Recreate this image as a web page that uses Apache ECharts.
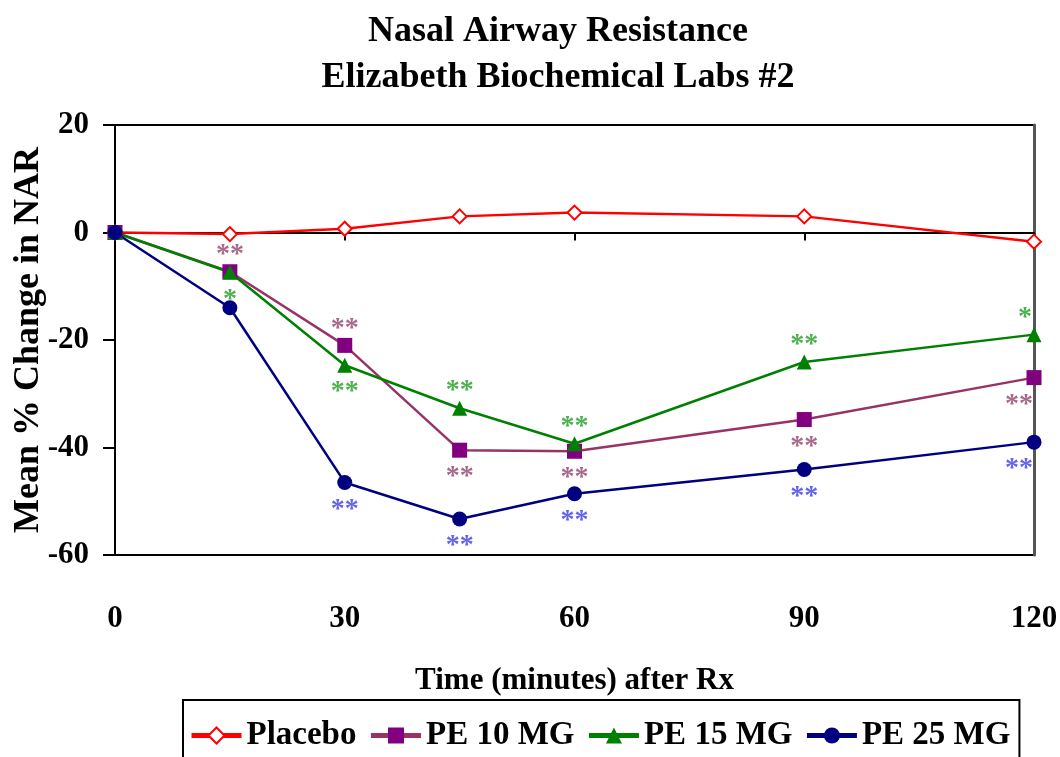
<!DOCTYPE html>
<html>
<head>
<meta charset="utf-8">
<script src="https://cdn.jsdelivr.net/npm/echarts@6/dist/echarts.min.js"></script>
<style>
  * { margin: 0; padding: 0; }
  body { background: #fff; }
  #chart { width: 1060px; height: 757px; }
</style>
</head>
<body>
<div id="chart"></div>
<script>
// time points (minutes after Rx)
const minutes = [0, 15, 30, 45, 60, 90, 120]

// mean % change in NAR per treatment
const placebo = [0, -0.3, 0.7, 3, 3.7, 3, -1.7]
const pe10 = [0, -7.3, -21, -40.5, -40.7, -34.8, -27]
const pe15 = [0, -7.4, -24.7, -32.7, -39.3, -24.1, -19]
const pe25 = [0, -14, -46.5, -53.3, -48.6, -44.1, -39]

// significance marks next to each point
const pe10Marks = ['', '**', '**', '**', '**', '**', '**']
const pe15Marks = ['', '*', '**', '**', '**', '**', '*']
const pe25Marks = ['', '', '**', '**', '**', '**', '**']

// which side of the point the mark sits on (-1 above, 1 below)
const pe10Side = [0, -1, -1, 1, 1, 1, 1]
const pe15Side = [0, 1, 1, -1, -1, -1, -1]
const pe25Side = [0, 1, 1, 1, 1, 1, 1]

const yTicks = [-60, -40, -20, 0, 20]
const xTicks = [0, 30, 60, 90, 120]

const serif = "'Liberation Serif', 'Times New Roman', serif"

function pointsWithMarks(values, marks, side, color) {
  return values.map((v, i) => {
    const item = { value: [minutes[i], v] }
    if (marks[i]) {
      const last = i === values.length - 1
      item.label = {
        show: true,
        position: 'inside',
        formatter: marks[i],
        color: color,
        fontFamily: serif,
        fontWeight: 'bold',
        fontSize: 28,
        offset: [last ? (marks[i].length > 1 ? -15 : -9) : 0, side[i] * 22 + 5]
      }
    }
    return item
  })
}

const chart = echarts.init(document.getElementById('chart'))
chart.setOption({
  backgroundColor: '#fff',
  animation: false,
  title: {
    text: 'Nasal Airway Resistance\nElizabeth Biochemical Labs #2',
    left: 553,
    top: 4,
    textAlign: 'center',
    textStyle: { fontFamily: serif, fontWeight: 'bold', fontSize: 36, lineHeight: 46, color: '#000' }
  },
  grid: {
    left: 115, right: 26, top: 125, bottom: 202,
    outerBoundsMode: 'none',
    containLabel: false,
    show: true, borderColor: '#000', borderWidth: 2
  },
  legend: {
    left: 183,
    top: 700,
    orient: 'horizontal',
    borderColor: '#000',
    borderWidth: 2,
    padding: [19, 9, 24, 6],
    itemGap: 12,
    itemWidth: 50,
    itemHeight: 20,
    lineStyle: { width: 5 },
    textStyle: { fontFamily: serif, fontWeight: 'bold', fontSize: 33, color: '#000' },
    data: ['Placebo', 'PE 10 MG', 'PE 15 MG', 'PE 25 MG']
  },
  xAxis: [
    {
      type: 'value',
      min: 0, max: 120, interval: 30,
      position: 'bottom',
      axisLine: { show: false, onZero: false },
      axisTick: { show: false },
      splitLine: { show: false },
      axisLabel: {
        margin: 48,
        fontFamily: serif, fontWeight: 'bold', fontSize: 31, color: '#000',
        formatter: v => xTicks.includes(v) ? String(v) : ''
      },
      name: 'Time (minutes) after Rx',
      nameLocation: 'middle',
      nameGap: 110,
      nameMoveOverlap: false,
      nameTextStyle: { fontFamily: serif, fontWeight: 'bold', fontSize: 31, color: '#000' }
    },
    {
      type: 'value',
      min: 0, max: 120, interval: 30,
      position: 'top',
      axisLine: { show: true, onZero: true, lineStyle: { color: '#000', width: 2 } },
      axisTick: { show: true, inside: true, length: 8, lineStyle: { color: '#000', width: 2 } },
      axisLabel: { show: false },
      splitLine: { show: false }
    }
  ],
  yAxis: [
    {
      type: 'value',
      min: -60, max: 20, interval: 20,
      position: 'left',
      axisLine: { show: true, onZero: false, lineStyle: { color: '#000', width: 2 } },
      axisTick: { show: true, length: 12, lineStyle: { color: '#000', width: 2 } },
      splitLine: { show: false },
      axisLabel: {
        margin: 26,
        fontFamily: serif, fontWeight: 'bold', fontSize: 31, color: '#000',
        formatter: v => yTicks.includes(v) ? String(v) : ''
      },
      name: 'Mean % Change in NAR',
      nameLocation: 'middle',
      nameRotate: 90,
      nameGap: 68,
      nameMoveOverlap: false,
      nameTextStyle: { fontFamily: serif, fontWeight: 'bold', fontSize: 36, color: '#000' }
    },
    {
      type: 'value',
      min: -60, max: 20, interval: 20,
      position: 'right',
      axisLine: { show: true, onZero: false, lineStyle: { color: '#555', width: 3 } },
      axisTick: { show: false },
      axisLabel: { show: false },
      splitLine: { show: false }
    }
  ],
  series: [
    {
      name: 'Placebo',
      type: 'line',
      data: placebo.map((v, i) => [minutes[i], v]),
      symbol: 'emptyDiamond',
      symbolSize: 14,
      lineStyle: { color: '#ff0000', width: 2.5 },
      itemStyle: { color: '#ff0000', borderWidth: 2.5 }
    },
    {
      name: 'PE 10 MG',
      type: 'line',
      data: pointsWithMarks(pe10, pe10Marks, pe10Side, '#a8698a'),
      symbol: 'rect',
      symbolSize: 15,
      lineStyle: { color: '#993366', width: 2.5 },
      itemStyle: { color: '#800080' }
    },
    {
      name: 'PE 15 MG',
      type: 'line',
      data: pointsWithMarks(pe15, pe15Marks, pe15Side, '#4fb04f'),
      symbol: 'triangle',
      symbolSize: 15,
      lineStyle: { color: '#008000', width: 2.5 },
      itemStyle: { color: '#008000' }
    },
    {
      name: 'PE 25 MG',
      type: 'line',
      data: pointsWithMarks(pe25, pe25Marks, pe25Side, '#6464e8'),
      symbol: 'circle',
      symbolSize: 15,
      lineStyle: { color: '#000080', width: 2.5 },
      itemStyle: { color: '#000080' }
    }
  ]
})
</script>
</body>
</html>
